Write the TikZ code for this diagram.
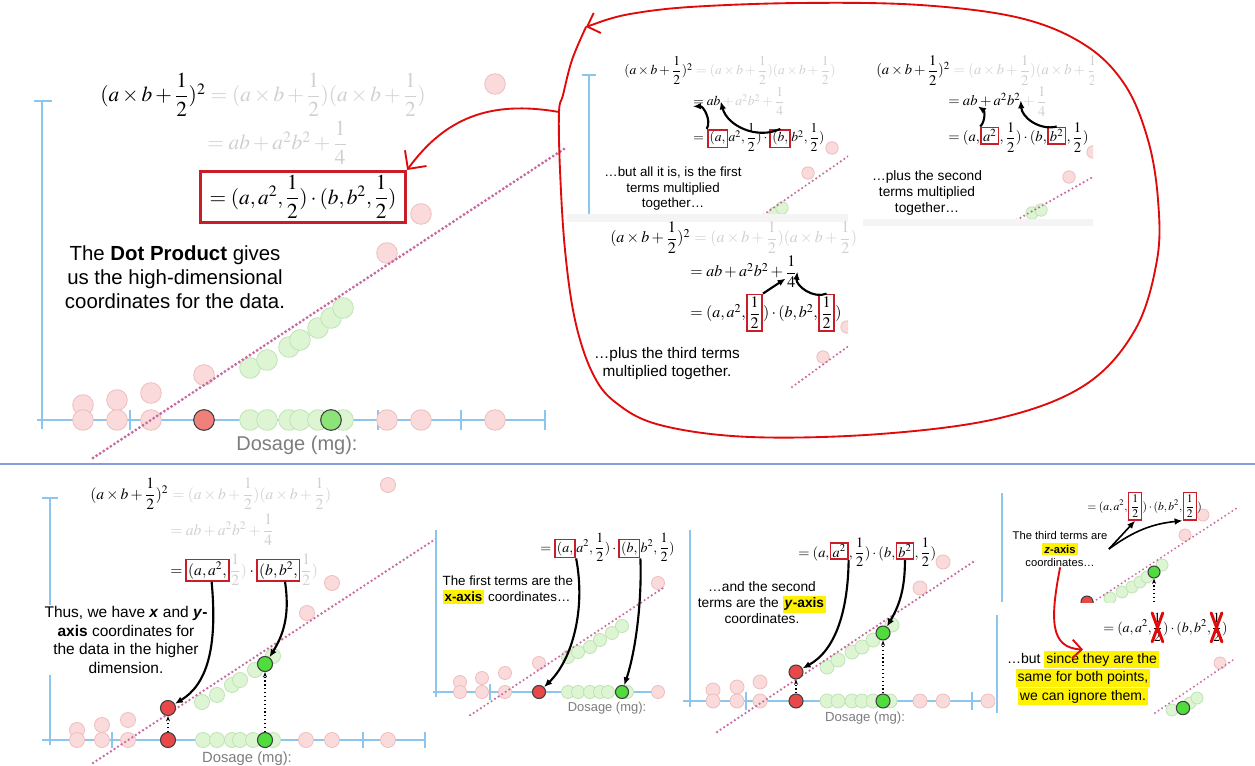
\documentclass[tikz,border=0pt]{standalone}
\usepackage{amsmath}
\usepackage{mathptmx}
\usepackage[no-math]{fontspec}
\setmainfont{Liberation Sans}
\usetikzlibrary{positioning,arrows.meta}

\definecolor{axisblue}{RGB}{140,198,238}
\definecolor{pinkfill}{RGB}{250,218,218}
\definecolor{pinkedge}{RGB}{238,190,190}
\definecolor{mintfill}{RGB}{222,245,212}
\definecolor{mintedge}{RGB}{190,228,180}
\definecolor{salmon}{RGB}{240,128,122}
\definecolor{ptred}{RGB}{232,72,72}
\definecolor{palelime}{RGB}{140,228,120}
\definecolor{ptgreen}{RGB}{80,220,60}
\definecolor{trendpink}{RGB}{200,105,160}
\definecolor{boxred}{RGB}{200,30,40}
\definecolor{penred}{RGB}{225,10,10}
\definecolor{formgray}{RGB}{208,208,208}
\definecolor{dosegray}{RGB}{125,125,125}
\definecolor{hlyellow}{RGB}{255,242,0}
\definecolor{divblue}{RGB}{130,160,215}
\definecolor{bandgray}{RGB}{244,244,244}

\newcommand{\halfv}{\dfrac{1}{2}}
\newcommand{\sqterm}{(a\times b+\halfv)^2}
\newcommand{\prodterm}{{}=(a\times b+\halfv)(a\times b+\halfv)}
\newcommand{\sumterm}{=ab+a^2b^2+\dfrac{1}{4}}
\newcommand{\dotterm}{=(a,a^2,\halfv)\cdot(b,b^2,\halfv)}
\newcommand{\hlt}[1]{{\setlength{\fboxsep}{1.5pt}\colorbox{hlyellow}{#1}}}

\tikzset{
  axisline/.style={draw=axisblue, line width=#1},
  axisline/.default=2.2pt,
  faintpink/.style={circle, draw=pinkedge, fill=pinkfill, line width=0.6pt, inner sep=0pt, minimum size=#1},
  faintmint/.style={circle, draw=mintedge, fill=mintfill, line width=0.6pt, inner sep=0pt, minimum size=#1},
  keyred/.style={circle, draw=black!75, fill=ptred, line width=0.8pt, inner sep=0pt, minimum size=#1},
  keygreen/.style={circle, draw=black!75, fill=ptgreen, line width=0.8pt, inner sep=0pt, minimum size=#1},
  trend/.style={draw=trendpink, line width=#1, line cap=round, dash pattern=on 0pt off 3.2pt},
  trend/.default=2.4pt,
  fm/.style={inner sep=0pt},
  gm/.style={inner sep=0pt, text=formgray},
  redbox/.style={draw=boxred, line width=1.3pt, inner sep=1.5pt},
  bendarrow/.style={-{Latex[length=6pt,width=5pt]}, line width=1.6pt},
  lift/.style={-{Stealth[length=4pt]}, dotted, line width=0.9pt},
  redpen/.style={draw=penred, line width=1.4pt, line cap=round, line join=round},
  caption/.style 2 args={align=center, inner sep=1pt, font=\fontsize{#1}{#2}\selectfont},
  dose/.style={text=dosegray, inner sep=0pt, font=\fontsize{#1}{#1}\selectfont},
  divider/.style={draw=divblue, line width=0.9pt}
}

\begin{document}
\begin{tikzpicture}[x=0.75pt,y=0.75pt,yscale=-1,xscale=1]
\useasboundingbox (0,0) rectangle (1255,766);
\fill[white] (0,0) rectangle (1255,766);

%%% Top left: the dot product
% Axes
\draw[axisline] (34,101) -- (52,101);
\draw[axisline] (42,101) -- (42,429);
\draw[axisline] (37,420) -- (545,420);
\foreach \x in {130,378,461,545} \draw[axisline] (\x,410) -- (\x,430);
% Faint dots
\foreach \p [count=\i] in {(83,405),(117,400),(151,393),(204,375),(387,253),(421,214),(495,84),(83,420),(117,420),(151,420),(387,420),(421,420),(495,420)}
  \node[faintpink=15.5pt] (pa\i) at \p {};
\foreach \p [count=\i] in {(250,420),(267,420),(289,420),(300,420),(318,420),(343,420),(250,368),(267,360),(289,347),(300,340),(318,328),(331,318),(343,308)}
  \node[faintmint=15.5pt] (ma\i) at \p {};
% Trend
\coordinate (ta0) at (93,458);
\coordinate (ta1) at (567,147);
\draw[trend] (ta0) -- (ta1);
% Key dots
\node[keyred=15.5pt, fill=salmon] (ra0) at (204,420) {};
\node[keygreen=15.5pt, fill=palelime] (ga0) at (331,420) {};
% Formula
\begin{scope}[font=\fontsize{16}{19}\selectfont]
\node[fm, anchor=base west] (sqA) at (100,102) {$\sqterm$};
\node[gm, base right=0pt of sqA] (prA) {$\prodterm$};
\node[gm, anchor=base west] (suA) at (207,150) {$\sumterm$};
\node[redbox, line width=2pt, inner xsep=7pt, inner ysep=3pt] (dpA) at (303,197) {$\dotterm$};
\end{scope}
% Text Node
\node[caption={15.3}{18}] (capA) at (175,277) {The \textbf{Dot Product} gives\\us the high-dimensional\\coordinates for the data.};
\node[dose=15] (dosA) at (297,445) {Dosage (mg):};

%%% Hand drawn loop
\coordinate (loopT) at (586,27);
\coordinate (loopL) at (559,112);
\draw[redpen] plot[smooth, tension=0.6] coordinates {(586,27) (572,60) (563,95) (559,112) (560,170) (565,250) (575,320) (592,372) (615,402) (660,425) (750,437) (880,434) (1000,418) (1085,385) (1135,330) (1157,260) (1158,200) (1148,140) (1125,85) (1085,45) (1020,18) (920,5) (800,3) (690,7) (630,14) (600,22)};
\draw[redpen, -{Straight Barb[length=8pt]}] (600,22) -- (loopT);
\draw[redpen, -{Straight Barb[length=10pt]}] (loopL) .. controls (490,100) and (445,118) .. (dpA.north east);

%%% Loop panel: first terms
\begin{scope}
\clip (567,0) rectangle (848,222);
\draw[axisline=1.5pt] (582,75) -- (596,75);
\draw[axisline=1.5pt] (589,75) -- (589,222);
\foreach \p [count=\i] in {(832,148),(808,173)} \node[faintpink=9.3pt] (pb\i) at \p {};
\foreach \p [count=\i] in {(775,213),(782,208)} \node[faintmint=9.3pt] (mb\i) at \p {};
\coordinate (tb0) at (753,222);
\coordinate (tb1) at (850,155);
\draw[trend=1.8pt] (tb0) -- (tb1);
\fill[bandgray] (567,214) rectangle (848,222);
\end{scope}
\begin{scope}[font=\fontsize{10.2}{12}\selectfont]
\node[fm, anchor=base west] (sqB) at (624,75) {$\sqterm$};
\node[gm, base right=0pt of sqB] (prB) {$\prodterm$};
\node[fm, anchor=base west] (abB) at (693,106) {$=ab$};
\node[gm, base right=0pt of abB] (suB) {${}+a^2b^2+\dfrac{1}{4}$};
\node[fm, anchor=base west] (eqB) at (693,142) {$=$};
\node[redbox, base right=2pt of eqB] (bxB1) {$(a,$};
\node[fm, base right=0pt of bxB1] (mdB) {$a^2,\halfv)\cdot{}$};
\node[redbox, base right=0pt of mdB] (bxB2) {$(b,$};
\node[fm, base right=0pt of bxB2] (enB) {$b^2,\halfv)$};
\end{scope}
\draw[bendarrow] (bxB1.north west) to[bend left=60] (abB.south west);
\draw[bendarrow] (bxB2.north) to[bend right=50] (abB.east);
\node[caption={10}{11.6}] (capB) at (673,189) {…but all it is, is the first\\terms multiplied\\together…};

%%% Loop panel: second terms
\begin{scope}
\clip (863,0) rectangle (1093,226);
\foreach \p [count=\i] in {(1093,152),(1069,177)} \node[faintpink=9.3pt] (pc\i) at \p {};
\foreach \p [count=\i] in {(1032,213),(1041,210)} \node[faintmint=9.3pt] (mc\i) at \p {};
\coordinate (tc0) at (1013,222);
\coordinate (tc1) at (1100,173);
\draw[trend=1.8pt] (tc0) -- (tc1);
\fill[bandgray] (863,219) rectangle (1093,226);
\begin{scope}[font=\fontsize{11}{13}\selectfont]
\node[fm, anchor=base west] (sqC) at (876,75) {$\sqterm$};
\node[gm, base right=0pt of sqC] (prC) {$\prodterm$};
\end{scope}
\end{scope}
\begin{scope}[font=\fontsize{11}{13}\selectfont]
\node[fm, anchor=base west] (abC) at (948,106) {$=ab$};
\node[fm, base right=0pt of abC] (a2C) {${}+a^2b^2$};
\node[gm, base right=0pt of a2C] (qtC) {${}+\dfrac{1}{4}$};
\node[fm, anchor=base west] (eqC) at (948,142) {$=(a,$};
\node[redbox, base right=0pt of eqC] (bxC1) {$a^2$};
\node[fm, base right=0pt of bxC1] (mdC) {$,\halfv)\cdot(b,$};
\node[redbox, base right=0pt of mdC] (bxC2) {$b^2$};
\node[fm, base right=0pt of bxC2] (enC) {$,\halfv)$};
\end{scope}
\draw[bendarrow] (bxC1.north west) to[bend left=50] (abC.south east);
\draw[bendarrow] (bxC2.north) to[bend right=50] (a2C.east);
\node[caption={10.3}{12}] (capC) at (927,193) {…plus the second\\terms multiplied\\together…};

%%% Loop panel: third terms
\begin{scope}
\clip (567,222) rectangle (848,395);
\foreach \p [count=\i] in {(847,327),(823,357)} \node[faintpink=9.3pt] (pd\i) at \p {};
\coordinate (td0) at (792,387);
\coordinate (td1) at (850,345);
\draw[trend=1.8pt] (td0) -- (td1);
\end{scope}
\begin{scope}[font=\fontsize{12}{14}\selectfont]
\node[fm, anchor=base west] (sqD) at (610,243) {$\sqterm$};
\node[gm, base right=0pt of sqD] (prD) {$\prodterm$};
\node[fm, anchor=base west] (abD) at (690,277) {$=ab+a^2b^2+{}$};
\node[fm, base right=0pt of abD] (qtD) {$\dfrac{1}{4}$};
\node[fm, anchor=base west] (eqD) at (690,318) {$=(a,a^2,$};
\node[redbox, base right=0pt of eqD] (bxD1) {$\halfv$};
\node[fm, base right=0pt of bxD1] (mdD) {$)\cdot(b,b^2,$};
\node[redbox, base right=0pt of mdD] (bxD2) {$\halfv$};
\node[fm, base right=0pt of bxD2] (enD) {$)$};
\end{scope}
\draw[bendarrow] (bxD1.north east) -- (abD.south east);
\draw[bendarrow] (bxD2.north) to[bend right=60] (qtD.east);
\node[caption={11.5}{13.5}] (capD) at (667,364) {…plus the third terms\\multiplied together.};

%%% Divider
\draw[divider] (0,464) -- (1255,464);

%%% Bottom 1: x and y coordinates
\draw[axisline=2pt] (42,498) -- (58,498);
\draw[axisline=2pt] (50,498) -- (50,745);
\draw[axisline=2pt] (42,740) -- (425,740);
\foreach \x in {112,363,425} \draw[axisline=2pt] (\x,732) -- (\x,748);
\foreach \p [count=\i] in {(77,730),(77,740),(102,725),(102,740),(128,720),(128,740),(306,740),(332,740),(388,740),(307,613),(332,583),(388,485)}
  \node[faintpink=11.3pt] (pe\i) at \p {};
\foreach \p [count=\i] in {(203,740),(217,740),(232,740),(240,740),(253,740),(273,740),(202,702),(217,695),(232,685),(240,680),(255,670),(273,656)}
  \node[faintmint=11.3pt] (me\i) at \p {};
\coordinate (te0) at (93,763);
\coordinate (te1) at (437,538);
\draw[trend=2pt] (te0) -- (te1);
\node[keyred=11.3pt] (re0) at (168,740) {};
\node[keyred=11.3pt] (re1) at (168,708) {};
\node[keygreen=11.3pt] (ge0) at (265,740) {};
\node[keygreen=11.3pt] (ge1) at (265,664) {};
\draw[lift] (re0) -- (re1);
\draw[lift] (ge0) -- (ge1);
\begin{scope}[font=\fontsize{11.7}{14}\selectfont]
\node[fm, anchor=base west] (sqE) at (90,499) {$\sqterm$};
\node[gm, base right=0pt of sqE] (prE) {$\prodterm$};
\node[gm, anchor=base west] (suE) at (170,535) {$\sumterm$};
\node[fm, anchor=base west] (eqE) at (170,575) {$=$};
\node[redbox, base right=2pt of eqE] (bxE1) {$(a,a^2,$};
\node[gm, base right=0pt of bxE1] (hfE1) {$\halfv)$};
\node[fm, base right=0pt of hfE1] (ctE) {${}\cdot{}$};
\node[redbox, base right=0pt of ctE] (bxE2) {$(b,b^2,$};
\node[gm, base right=0pt of bxE2] (hfE2) {$\halfv)$};
\end{scope}
\node[caption={11.6}{13.9}, fill=white] (capE) at (126,640) {Thus, we have \textbf{\textit{x}} and \textbf{\textit{y}-}\\\textbf{axis} coordinates for\\the data in the higher\\dimension.};
\draw[bendarrow] (bxE1.-70) .. controls (218,650) and (206,685) .. (re1);
\draw[bendarrow] (bxE2.-60) to[bend right=20] (ge1);
\node[dose=11.1] (dosE) at (247,759) {Dosage (mg):};

%%% Bottom 2: first terms are x
\begin{scope}
\clip (433,500) rectangle (665,715);
\draw[axisline=1.6pt] (436,530) -- (436,697);
\draw[axisline=1.6pt] (433,692) -- (665,692);
\draw[axisline=1.6pt] (490,684) -- (490,700);
\foreach \p [count=\i] in {(460,682),(460,692),(482,678),(482,692),(505,673),(505,692),(539,663),(658,583),(658,692)}
  \node[faintpink=9.8pt] (pf\i) at \p {};
\foreach \p [count=\i] in {(568,692),(578,692),(590,692),(600,692),(608,692),(627,692),(568,657),(578,652),(590,647),(600,640),(612,633),(622,626)}
  \node[faintmint=9.8pt] (mf\i) at \p {};
\coordinate (tf0) at (463,720);
\coordinate (tf1) at (663,588);
\draw[trend=1.8pt] (tf0) -- (tf1);
\node[keyred=9.8pt] (rf0) at (539,692) {};
\node[keygreen=9.8pt] (gf0) at (622,692) {};
\end{scope}
\begin{scope}[font=\fontsize{10.5}{12.5}\selectfont]
\node[fm, anchor=base west] (eqF) at (540,552) {$=$};
\node[redbox, base right=2pt of eqF] (bxF1) {$(a,$};
\node[fm, base right=0pt of bxF1] (mdF) {$a^2,\halfv)\cdot{}$};
\node[redbox, base right=0pt of mdF] (bxF2) {$(b,$};
\node[fm, base right=0pt of bxF2] (enF) {$b^2,\halfv)$};
\end{scope}
\draw[bendarrow] (bxF1.south east) .. controls (586,610) and (572,660) .. (rf0);
\draw[bendarrow] (bxF2.south east) .. controls (642,600) and (636,650) .. (gf0);
\node[caption={10}{12}, align=left, anchor=west] (capF) at (441,590) {The first terms are the\\\hlt{\textbf{x-axis}} coordinates…};
\node[dose=9.7] (dosF) at (607,708) {Dosage (mg):};

%%% Bottom 3: second terms are y
\begin{scope}
\clip (683,500) rectangle (995,740);
\draw[axisline=1.6pt] (690,530) -- (690,707);
\draw[axisline=1.6pt] (683,701) -- (995,701);
\foreach \x in {746,972} \draw[axisline=1.6pt] (\x,692) -- (\x,710);
\foreach \p [count=\i] in {(713,690),(713,701),(737,687),(737,701),(760,682),(760,701),(920,701),(943,701),(920,588),(943,562),(988,701)}
  \node[faintpink=10.5pt] (pg\i) at \p {};
\foreach \p [count=\i] in {(827,701),(838,701),(852,701),(862,701),(873,701),(890,701),(827,667),(838,660),(852,652),(862,647),(873,640),(892,625)}
  \node[faintmint=10.5pt] (mg\i) at \p {};
\coordinate (tg0) at (717,732);
\coordinate (tg1) at (973,562);
\draw[trend=1.9pt] (tg0) -- (tg1);
\node[keyred=10.5pt] (rg0) at (796,701) {};
\node[keyred=10.5pt] (rg1) at (796,672) {};
\node[keygreen=10.5pt] (gg0) at (883,701) {};
\node[keygreen=10.5pt] (gg1) at (883,633) {};
\draw[lift] (rg0) -- (rg1);
\draw[lift] (gg0) -- (gg1);
\end{scope}
\begin{scope}[font=\fontsize{10.8}{13}\selectfont]
\node[fm, anchor=base west] (eqG) at (798,557) {$=(a,$};
\node[redbox, base right=0pt of eqG] (bxG1) {$a^2$};
\node[fm, base right=0pt of bxG1] (mdG) {$,\halfv)\cdot(b,$};
\node[redbox, base right=0pt of mdG] (bxG2) {$b^2$};
\node[fm, base right=0pt of bxG2] (enG) {$,\halfv)$};
\end{scope}
\draw[bendarrow] (bxG1.south east) .. controls (848,610) and (836,650) .. (rg1);
\draw[bendarrow] (bxG2.south) to[bend right=15] (gg1);
\node[caption={10.3}{12}] (capG) at (762,603) {…and the second\\terms are the \hlt{\textbf{\textit{y}-axis}}\\coordinates.};
\node[dose=9.9] (dosG) at (865,718) {Dosage (mg):};

%%% Bottom 4: third terms are z
\begin{scope}
\clip (995,470) rectangle (1245,602);
\draw[axisline=1.5pt] (1002,493) -- (1002,602);
\foreach \p [count=\i] in {(1203,515),(1185,535)} \node[faintpink=9pt] (ph\i) at \p {};
\foreach \p [count=\i] in {(1110,598),(1122,592),(1132,587),(1140,582),(1147,577),(1162,565)} \node[faintmint=9pt] (mh\i) at \p {};
\coordinate (th0) at (1093,602);
\coordinate (th1) at (1237,508);
\draw[trend=1.6pt] (th0) -- (th1);
\node[keyred=9pt] (rh1) at (1087,602) {};
\node[keygreen=9pt] (gh1) at (1154,572) {};
\coordinate (gh0) at (1154,602);
\draw[lift] (gh0) -- (gh1);
\end{scope}
\begin{scope}[font=\fontsize{8.7}{10.5}\selectfont]
\node[fm, anchor=base west] (eqH) at (1087,510) {$=(a,a^2,$};
\node[redbox, line width=1.1pt, base right=0pt of eqH] (bxH1) {$\halfv$};
\node[fm, base right=0pt of bxH1] (mdH) {$)\cdot(b,b^2,$};
\node[redbox, line width=1.1pt, base right=0pt of mdH] (bxH2) {$\halfv$};
\node[fm, base right=0pt of bxH2] (enH) {$)$};
\end{scope}
\node[caption={8.4}{9.8}] (capH) at (1060,549) {The third terms are\\\hlt{\textbf{\textit{z}-axis}}\\coordinates…};
\draw[bendarrow, line width=1.2pt] (capH.east) -- (bxH1.south);
\draw[bendarrow, line width=1.2pt] (capH.east) to[bend right=15] (bxH2.south west);

% lower part
\begin{scope}
\clip (995,612) rectangle (1240,718);
\draw[axisline=1.5pt] (997,615) -- (997,713);
\node[faintpink=9pt] (pi1) at (1220,663) {};
\foreach \p [count=\i] in {(1172,710),(1190,703),(1197,698)} \node[faintmint=9pt] (mi\i) at \p {};
\coordinate (ti0) at (1155,713);
\coordinate (ti1) at (1233,660);
\draw[trend=1.6pt] (ti0) -- (ti1);
\node[keygreen=10pt] (gi1) at (1183,708) {};
\end{scope}
\begin{scope}[font=\fontsize{10.5}{12.5}\selectfont]
\node[fm, anchor=base west] (eqI) at (1103,632) {$=(a,a^2,$};
\node[fm, base right=0pt of eqI] (hfI1) {$\halfv$};
\node[fm, base right=0pt of hfI1] (mdI) {$)\cdot(b,b^2,$};
\node[fm, base right=0pt of mdI] (hfI2) {$\halfv$};
\node[fm, base right=0pt of hfI2] (enI) {$)$};
\end{scope}
\foreach \n in {hfI1,hfI2}
  \draw[redpen, line width=2.2pt] (\n.north west) -- (\n.south east) (\n.north east) -- (\n.south west);
\node[caption={10.5}{11}] (capI) at (1083,678) {…but \hlt{since they are the}\\\hlt{same for both points,}\\\hlt{we can ignore them.}};
\draw[redpen, -{Straight Barb[length=7pt]}] (capH.south) .. controls (1050,620) and (1050,648) .. (capI.north);

\end{tikzpicture}
\end{document}
